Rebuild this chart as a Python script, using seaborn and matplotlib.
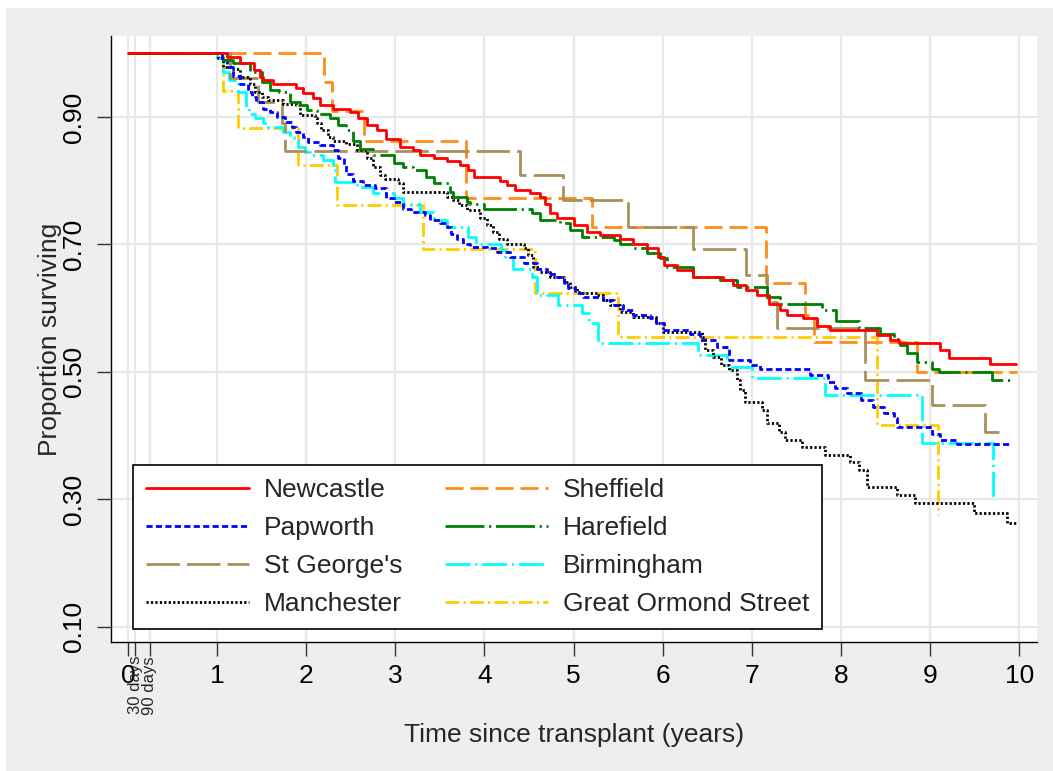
import matplotlib
matplotlib.use('Agg')
import matplotlib.pyplot as plt
from matplotlib.lines import Line2D
from matplotlib.patches import Rectangle
import pandas as pd
import seaborn as sns

# Kaplan-Meier step points (years since transplant, proportion surviving)
newcastle_t = [0, 1.11, 1.26, 1.41, 1.48, 1.52, 1.63, 1.89, 1.97, 2.08, 2.15, 2.30, 2.49, 2.58, 2.68,
               2.79, 2.90, 3.05, 3.20, 3.28, 3.43, 3.58, 3.73, 3.82, 3.88, 4.18, 4.25, 4.34, 4.51, 4.62,
               4.68, 4.74, 4.81, 5.00, 5.15, 5.30, 5.52, 5.67, 5.82, 5.95, 6.01, 6.16, 6.34, 6.68, 6.79,
               6.94, 7.06, 7.19, 7.32, 7.39, 7.58, 7.73, 7.88, 8.40, 8.55, 8.65, 9.11, 9.21, 9.67, 9.97]
newcastle_s = [1.0, 0.994, 0.984, 0.973, 0.963, 0.958, 0.952, 0.945, 0.937, 0.929, 0.918, 0.913, 0.908,
               0.898, 0.887, 0.879, 0.866, 0.853, 0.848, 0.840, 0.835, 0.831, 0.824, 0.816, 0.806, 0.800,
               0.793, 0.785, 0.780, 0.775, 0.764, 0.749, 0.741, 0.730, 0.720, 0.715, 0.709, 0.701, 0.694,
               0.680, 0.667, 0.660, 0.649, 0.644, 0.636, 0.628, 0.620, 0.607, 0.597, 0.589, 0.584, 0.572,
               0.565, 0.558, 0.550, 0.545, 0.534, 0.521, 0.513, 0.513]

papworth_t = [0, 1.05, 1.11, 1.18, 1.26, 1.35, 1.39, 1.44, 1.52, 1.59, 1.67, 1.76, 1.84, 1.89, 1.97,
              2.02, 2.15, 2.30, 2.36, 2.42, 2.45, 2.53, 2.64, 2.77, 2.90, 2.98, 3.09, 3.18, 3.33, 3.39,
              3.50, 3.58, 3.63, 3.69, 3.76, 3.84, 4.03, 4.14, 4.29, 4.44, 4.59, 4.70, 4.81, 4.89, 4.94,
              5.02, 5.11, 5.33, 5.45, 5.56, 5.67, 5.86, 5.93, 6.01, 6.31, 6.42, 6.61, 6.74, 6.98, 7.09,
              7.65, 7.86, 7.93, 8.07, 8.22, 8.36, 8.48, 8.59, 8.63, 9.02, 9.11, 9.30, 9.92]
papworth_s = [1.0, 0.989, 0.979, 0.965, 0.952, 0.939, 0.931, 0.924, 0.913, 0.908, 0.900, 0.892, 0.884,
              0.877, 0.869, 0.861, 0.856, 0.848, 0.835, 0.824, 0.811, 0.800, 0.793, 0.788, 0.772, 0.767,
              0.756, 0.751, 0.746, 0.738, 0.733, 0.728, 0.717, 0.709, 0.701, 0.696, 0.694, 0.688, 0.680,
              0.670, 0.662, 0.654, 0.649, 0.639, 0.631, 0.623, 0.618, 0.613, 0.605, 0.597, 0.589, 0.584,
              0.576, 0.565, 0.560, 0.550, 0.539, 0.518, 0.511, 0.505, 0.495, 0.484, 0.474, 0.466, 0.456,
              0.445, 0.435, 0.427, 0.414, 0.403, 0.393, 0.387, 0.387]

stgeorges_t = [0, 1.15, 1.46, 1.73, 1.76, 4.40, 4.88, 5.61, 6.34, 6.94, 7.17, 7.28, 8.27, 9.02, 9.62, 9.77]
stgeorges_s = [1.0, 0.961, 0.924, 0.890, 0.847, 0.809, 0.769, 0.727, 0.693, 0.652, 0.610, 0.569, 0.487,
               0.448, 0.405, 0.405]

manchester_t = [0, 1.01, 1.07, 1.16, 1.26, 1.37, 1.43, 1.50, 1.57, 1.74, 1.89, 1.93, 2.10, 2.12, 2.17,
                2.25, 2.30, 2.45, 2.57, 2.68, 2.75, 2.83, 2.88, 3.03, 3.09, 3.58, 3.65, 3.71, 3.80, 3.95,
                4.03, 4.10, 4.16, 4.25, 4.44, 4.49, 4.55, 4.62, 4.74, 4.89, 4.96, 5.04, 5.09, 5.26, 5.33,
                5.41, 5.52, 5.67, 5.93, 6.00, 6.44, 6.48, 6.57, 6.66, 6.74, 6.83, 6.87, 6.92, 7.11, 7.17,
                7.30, 7.37, 7.56, 7.82, 8.10, 8.20, 8.29, 8.63, 8.83, 9.49, 9.86, 9.97]
manchester_s = [1.0, 0.992, 0.979, 0.976, 0.963, 0.952, 0.939, 0.931, 0.926, 0.921, 0.918, 0.903, 0.898,
                0.890, 0.879, 0.869, 0.863, 0.858, 0.848, 0.835, 0.822, 0.809, 0.803, 0.796, 0.782, 0.775,
                0.769, 0.762, 0.754, 0.741, 0.730, 0.720, 0.709, 0.701, 0.694, 0.683, 0.665, 0.657, 0.649,
                0.641, 0.633, 0.626, 0.623, 0.620, 0.613, 0.605, 0.594, 0.586, 0.576, 0.563, 0.555, 0.534,
                0.524, 0.511, 0.503, 0.487, 0.471, 0.453, 0.440, 0.419, 0.406, 0.393, 0.382, 0.369, 0.359,
                0.346, 0.320, 0.307, 0.294, 0.278, 0.262, 0.262]

sheffield_t = [0, 2.20, 2.29, 2.65, 3.79, 5.21, 7.16, 7.60, 7.70, 8.85, 9.98]
sheffield_s = [1.0, 0.955, 0.909, 0.863, 0.773, 0.727, 0.639, 0.589, 0.547, 0.500, 0.500]

harefield_t = [0, 1.07, 1.18, 1.37, 1.50, 1.59, 1.69, 1.82, 1.93, 2.01, 2.12, 2.27, 2.36, 2.45, 2.53,
               2.60, 2.75, 2.98, 3.09, 3.20, 3.35, 3.43, 3.61, 3.65, 3.80, 3.84, 3.99, 4.53, 4.62, 4.85,
               4.96, 5.09, 5.45, 5.52, 5.67, 5.82, 5.97, 6.05, 6.34, 6.64, 6.83, 7.17, 7.32, 7.79, 7.94,
               8.20, 8.44, 8.59, 8.66, 8.74, 8.85, 9.02, 9.10, 9.69, 9.92]
harefield_s = [1.0, 0.989, 0.984, 0.971, 0.955, 0.942, 0.939, 0.924, 0.918, 0.911, 0.905, 0.898, 0.887,
               0.879, 0.863, 0.850, 0.840, 0.827, 0.822, 0.816, 0.806, 0.796, 0.782, 0.775, 0.767, 0.763,
               0.755, 0.749, 0.739, 0.733, 0.722, 0.712, 0.707, 0.701, 0.694, 0.686, 0.678, 0.665, 0.649,
               0.644, 0.633, 0.618, 0.607, 0.597, 0.579, 0.568, 0.560, 0.552, 0.542, 0.529, 0.516, 0.505,
               0.500, 0.487, 0.487]

birmingham_t = [0, 1.00, 1.07, 1.13, 1.24, 1.33, 1.36, 1.43, 1.52, 1.57, 1.74, 1.82, 1.86, 1.91, 1.99,
                2.04, 2.19, 2.30, 2.32, 2.57, 2.75, 2.98, 3.09, 3.28, 3.43, 3.58, 3.82, 3.91, 4.19, 4.23,
                4.32, 4.53, 4.59, 4.83, 5.09, 5.17, 5.28, 6.40, 6.72, 7.00, 7.82, 8.91, 9.71]
birmingham_s = [1.0, 0.992, 0.971, 0.958, 0.939, 0.916, 0.905, 0.898, 0.890, 0.884, 0.877, 0.869, 0.864,
                0.853, 0.845, 0.840, 0.832, 0.822, 0.798, 0.790, 0.780, 0.772, 0.764, 0.751, 0.738, 0.728,
                0.712, 0.701, 0.691, 0.680, 0.662, 0.649, 0.620, 0.605, 0.592, 0.576, 0.545, 0.526, 0.508,
                0.490, 0.464, 0.388, 0.300]

gos_t = [0, 1.07, 1.24, 1.91, 2.35, 3.31, 4.57, 5.50, 8.40, 9.09]
gos_s = [1.0, 0.940, 0.882, 0.824, 0.762, 0.693, 0.624, 0.555, 0.416, 0.275]

centres = ['Newcastle', 'Papworth', "St George's", 'Manchester',
           'Sheffield', 'Harefield', 'Birmingham', 'Great Ormond Street']
series = {
    'Newcastle': (newcastle_t, newcastle_s),
    'Papworth': (papworth_t, papworth_s),
    "St George's": (stgeorges_t, stgeorges_s),
    'Manchester': (manchester_t, manchester_s),
    'Sheffield': (sheffield_t, sheffield_s),
    'Harefield': (harefield_t, harefield_s),
    'Birmingham': (birmingham_t, birmingham_s),
    'Great Ormond Street': (gos_t, gos_s),
}

colours = {'Newcastle': '#ff0000', 'Papworth': '#0000ff', "St George's": '#a8905c',
           'Manchester': '#000000', 'Sheffield': '#ff8c1a', 'Harefield': '#008000',
           'Birmingham': '#00ffff', 'Great Ormond Street': '#ffcc00'}
# dash patterns in units of line width
dash_styles = {'Newcastle': '', 'Papworth': (2.2, 1.2), "St George's": (12, 2.6),
               'Manchester': (0.8, 0.8), 'Sheffield': (6.5, 2.5), 'Harefield': (14, 1.7, 0.8, 1.7),
               'Birmingham': (9, 1.7, 0.8, 1.7), 'Great Ormond Street': (5, 1.5, 0.8, 1.5)}
LW = 2.0

frames = [pd.DataFrame({'years': t, 'surv': s, 'centre': c}) for c, (t, s) in series.items()]
df = pd.concat(frames, ignore_index=True)

sns.set_theme(style='white')
plt.rcParams['font.family'] = ['Liberation Sans', 'DejaVu Sans']

fig = plt.figure(figsize=(10.53, 7.71), dpi=100)
fig.patch.set_facecolor('white')
fig.add_artist(Rectangle((6 / 1053, 0), 1, 763 / 771, transform=fig.transFigure,
                         facecolor='#eeeeee', edgecolor='none', zorder=-5))
ax = fig.add_axes([0.1054, 0.1673, 0.8794, 0.786])
ax.set_facecolor('white')

draw_order = ['Great Ormond Street', 'Birmingham', 'Sheffield', "St George's",
              'Manchester', 'Papworth', 'Harefield', 'Newcastle']
sns.lineplot(data=df, x='years', y='surv', hue='centre', style='centre',
             hue_order=draw_order, style_order=draw_order,
             palette=colours, dashes=dash_styles, estimator=None, sort=False,
             drawstyle='steps-post', linewidth=LW, legend=False, ax=ax)

ax.set_xlim(-0.19, 10.2)
ax.set_ylim(0.076, 1.027)
ax.set_xticks(range(0, 11))
ax.set_xticks([30 / 365.25, 90 / 365.25], minor=True)
ax.set_xticklabels(['30 days', '90 days'], minor=True, rotation=90, fontsize=12)
ax.set_yticks([0.1, 0.3, 0.5, 0.7, 0.9])
ax.set_yticklabels(['0.10', '0.30', '0.50', '0.70', '0.90'], rotation=90, va='center')
ax.tick_params(axis='both', which='major', bottom=True, left=True, length=10, width=1,
               color='#333333', labelsize=19, labelcolor='black')
ax.tick_params(axis='x', which='major', pad=6)
ax.tick_params(axis='y', which='major', pad=8)
ax.tick_params(axis='x', which='minor', bottom=True, length=10, width=1, color='#333333', pad=0)

ax.grid(True, axis='y', which='major', color='#e8e8e8', lw=1.6)
ax.grid(True, axis='x', which='both', color='#e8e8e8', lw=1.6)
ax.set_axisbelow(True)

for side in ['top', 'right']:
    ax.spines[side].set_visible(False)
for side in ['left', 'bottom']:
    ax.spines[side].set_color('black')
    ax.spines[side].set_linewidth(1.0)

ax.set_xlabel('Time since transplant (years)', fontsize=19, labelpad=6)
ax.set_ylabel('Proportion surviving', fontsize=19, labelpad=0)

handles = []
for c in centres:
    if dash_styles[c] == '':
        handles.append(Line2D([], [], color=colours[c], lw=LW, linestyle='-'))
    else:
        handles.append(Line2D([], [], color=colours[c], lw=LW, dashes=dash_styles[c]))
leg = ax.legend(handles, centres, ncol=2, loc='lower left', bbox_to_anchor=(0.0238, 0.0215),
                borderaxespad=0, fontsize=19, frameon=True, fancybox=False, edgecolor='black',
                framealpha=1, handlelength=3.9, handletextpad=0.57, columnspacing=1.6,
                labelspacing=0.53, borderpad=0.5)
leg.get_frame().set_linewidth(1.2)

fig.savefig('out.png', dpi=100, facecolor=fig.get_facecolor())
